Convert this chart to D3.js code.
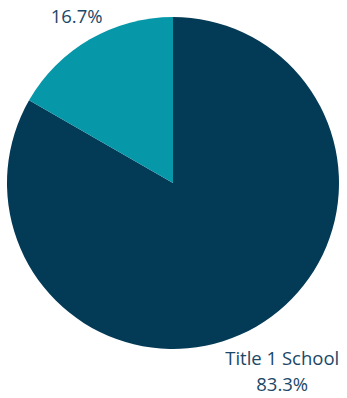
<!DOCTYPE html>
<html>
<head>
<meta charset="utf-8">
<script src="https://cdn.jsdelivr.net/npm/d3@7"></script>
<style>
  body { margin: 0; background: #fff; }
  .label { font-family: "Open Sans", sans-serif; font-size: 18.5px; fill: #1b4868; }
</style>
</head>
<body>
<div id="chart"></div>
<script>
// Data
const categories = ["Title 1 School", ""];
const values = [83.3, 16.7];
const colors = ["#033a56", "#0697a9"];

const width = 347, height = 398;
const cx = 173, cy = 183, radius = 166;
const lineHeight = 25.5;

const svg = d3.select("#chart").append("svg")
    .attr("width", width)
    .attr("height", height);

const g = svg.append("g")
    .attr("transform", `translate(${cx}, ${cy})`);

const pie = d3.pie().sort(null).value(d => d);
const arcs = pie(values);

const arc = d3.arc().innerRadius(0).outerRadius(radius);

g.selectAll("path.slice")
    .data(arcs)
    .enter()
    .append("path")
    .attr("class", "slice")
    .attr("d", arc)
    .attr("fill", (d, i) => colors[i]);

// labels outside the pie, pushed out further for multi-line labels
arcs.forEach((d, i) => {
    const lines = categories[i] ? [categories[i], values[i].toFixed(1) + "%"] : [values[i].toFixed(1) + "%"];
    const r = radius + 1 + lineHeight * lines.length;
    const a = (d.startAngle + d.endAngle) / 2;
    const x = Math.sin(a) * r, y = -Math.cos(a) * r;
    const t = g.append("text")
        .attr("class", "label")
        .attr("text-anchor", "middle")
        .attr("transform", `translate(${x}, ${y - (lines.length - 1) * lineHeight / 2})`);
    lines.forEach((l, j) => {
        t.append("tspan")
            .attr("x", 0)
            .attr("dy", j === 0 ? "0.35em" : lineHeight)
            .text(l);
    });
});
</script>
</body>
</html>
